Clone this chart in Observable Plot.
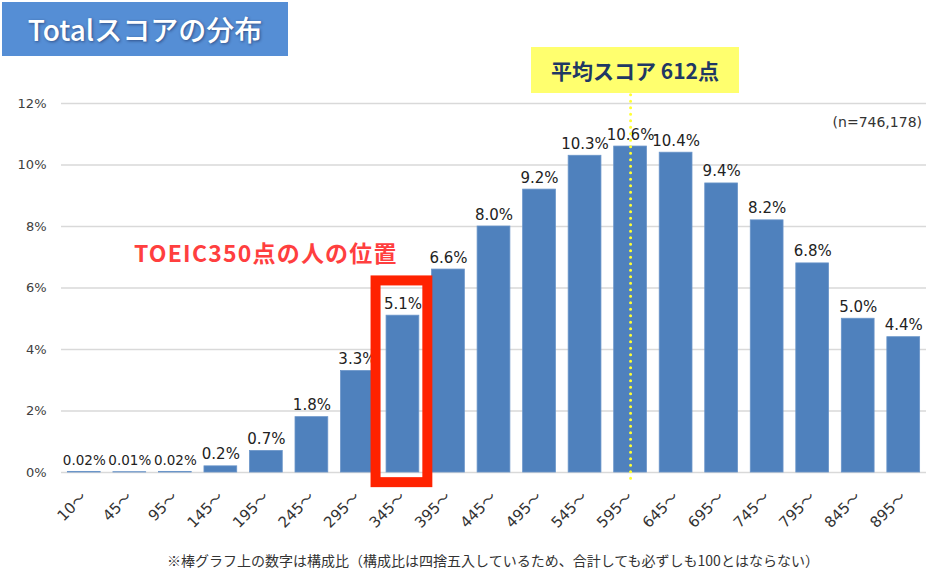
<!DOCTYPE html>
<html><head><meta charset="utf-8">
<script src="https://cdn.jsdelivr.net/npm/d3@7"></script>
<script src="https://cdn.jsdelivr.net/npm/@observablehq/plot@0.6"></script>
<style>
body{margin:0;background:#fff;}
#wrap{position:relative;width:940px;height:570px;font-family:"DejaVu Sans",sans-serif;}
#title{position:absolute;left:2px;top:2px;width:286px;height:54px;background:#558ED5;color:#fff;font-family:"Noto Sans CJK JP",sans-serif;font-size:28px;font-weight:500;display:flex;align-items:center;justify-content:center;text-shadow:1px 1px 3px rgba(0,0,40,0.45);}
#mean{position:absolute;left:531px;top:47px;width:208px;height:46px;background:#FFFF6E;color:#1F3864;font-family:"Noto Sans CJK JP",sans-serif;font-size:21px;font-weight:bold;display:flex;align-items:center;justify-content:center;}
#note{position:absolute;left:166px;top:551px;width:654px;text-align:center;color:#333;font-family:"Noto Sans CJK JP",sans-serif;font-size:14px;line-height:18px;white-space:nowrap;}
#n{position:absolute;right:18px;top:114px;color:#333;font-size:14px;font-family:"DejaVu Sans",sans-serif;}
#hl{position:absolute;left:134px;top:237px;color:#FF3F3F;font-family:"Noto Sans CJK JP",sans-serif;font-size:23px;letter-spacing:1.2px;font-weight:bold;white-space:nowrap;line-height:30px;}
#wrap svg{position:absolute;left:0;top:0;overflow:visible;}
#wrap svg text{font-family:"DejaVu Sans","Noto Sans CJK JP",sans-serif;}
</style>
</head><body>
<div id="wrap"></div>
<script>
const categories = ["10〜","45〜","95〜","145〜","195〜","245〜","295〜","345〜","395〜","445〜","495〜","545〜","595〜","645〜","695〜","745〜","795〜","845〜","895〜"];
const values = [0.02,0.01,0.02,0.2,0.7,1.8,3.3,5.1,6.6,8.0,9.2,10.3,10.6,10.4,9.4,8.2,6.8,5.0,4.4];
const valueLabels = ["0.02%","0.01%","0.02%","0.2%","0.7%","1.8%","3.3%","5.1%","6.6%","8.0%","9.2%","10.3%","10.6%","10.4%","9.4%","8.2%","6.8%","5.0%","4.4%"];
const yTicks = [0,2,4,6,8,10,12];
const meanCategory = "595〜";
const highlightCategory = "345〜";
const highlightRange = [-0.33, 6.23];
const meanLineRange = [-0.2, 12.33];

const data = categories.map((c,i)=>({cat:c, v:values[i], label:valueLabels[i]}));
const FF = "DejaVu Sans";

const chart = Plot.plot({
  width: 940, height: 570,
  marginTop: 103, marginBottom: 98, marginLeft: 61, marginRight: 14,
  style: {fontFamily: FF, background: "transparent"},
  x: {domain: categories, paddingInner: 0.28, paddingOuter: 0.14, round: false, label: null},
  y: {domain: [0,12], label: null},
  marks: [
    Plot.gridY(yTicks, {stroke: "#d9d9d9", strokeOpacity: 1, strokeWidth: 1.3}),
    Plot.axisY({ticks: yTicks, tickSize: 0, tickPadding: 15, tickFormat: d => d + "%", fontSize: 13, fontFamily: FF, fill: "#404040", label: null}),
    Plot.axisX({tickSize: 0, tickPadding: 22, tickRotate: -45, fontSize: 15, fontFamily: FF, fill: "#333", label: null}),
    Plot.barY(data, {x: "cat", y: "v", fill: "#4F81BD", stroke: "#6a95c9", strokeWidth: 0.8}),
    Plot.text(data.filter(d => d.v >= 0.1), {x: "cat", y: "v", text: "label", lineAnchor: "bottom", dy: -7, fontSize: 15, fontFamily: FF, fill: "#222"}),
    Plot.text(data.filter(d => d.v < 0.1), {x: "cat", y: "v", text: "label", lineAnchor: "bottom", dy: -7, fontSize: 13.5, fontFamily: FF, fill: "#222"}),
    Plot.ruleX([meanCategory], {x: d => d, y1: meanLineRange[0], y2: meanLineRange[1], stroke: "#FFFF33", strokeWidth: 3, strokeDasharray: "0 6.5", strokeLinecap: "round", clip: false}),
    Plot.barY([highlightCategory], {x: d => d, y1: highlightRange[0], y2: highlightRange[1], fill: "none", stroke: "#FF2200", strokeWidth: 10, insetLeft: -10.5, insetRight: -8.5, clip: false})
  ]
});

const wrap = document.getElementById("wrap");
wrap.appendChild(chart);
wrap.insertAdjacentHTML("beforeend",
  '<div id="title">Totalスコアの分布</div>' +
  '<div id="mean">平均スコア 612点</div>' +
  '<div id="n">(n=746,178)</div>' +
  '<div id="hl">TOEIC350点の人の位置</div>' +
  '<div id="note">※棒グラフ上の数字は構成比（構成比は四捨五入しているため、合計しても必ずしも100とはならない）</div>');
</script>
</body></html>
